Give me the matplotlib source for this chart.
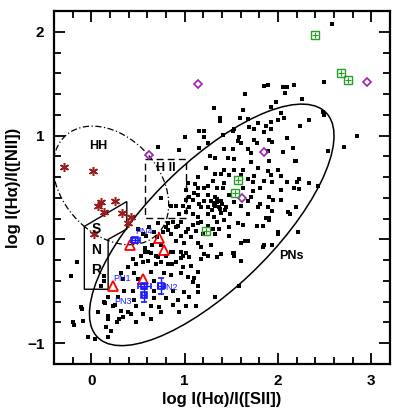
import matplotlib
matplotlib.use("Agg")
import matplotlib.pyplot as plt
from matplotlib.patches import Ellipse, Polygon
from matplotlib.ticker import MultipleLocator

plt.rcParams['font.family'] = ['Liberation Sans', 'DejaVu Sans']

# ---- data (log Ha/[SII], log Ha/[NII]) ----
pn_xy = [
    (1.89,1.49),(1.85,1.48),(2.05,1.47),(2.10,1.47),(2.17,1.49),(2.08,1.41),(1.65,1.40),(1.31,1.27),(1.63,1.25),
    (1.92,1.28),(1.98,1.32),(1.38,1.17),(1.38,1.14),(1.59,1.17),(1.68,1.16),(2.03,1.22),(1.92,1.13),(2.00,1.15),
    (2.06,1.17),(1.69,1.08),(1.74,1.06),(1.79,1.12),(1.87,1.09),(1.93,1.06),(1.85,1.03),(1.53,1.06),(1.52,1.04),
    (1.21,1.04),(1.21,0.99),(1.41,1.01),(1.58,0.99),(1.57,0.95),(1.60,0.93),(1.74,0.96),(1.78,0.93),(1.90,0.96),
    (1.94,0.94),(2.10,0.98),(2.16,0.88),(1.25,0.93),(1.42,0.87),(1.52,0.87),(1.68,0.87),(1.71,0.83),(1.89,0.85),
    (2.05,0.84),
    (2.58,2.07),(2.49,1.52),(2.26,1.35),(2.33,1.15),(2.48,1.23),(2.49,1.20),(2.85,1.00),(2.71,0.89),(2.54,0.85),
    (2.18,0.76),(2.33,0.54),(2.20,0.55),(2.23,0.49),(2.43,0.51),(2.24,1.09),
    (1.27,0.80),(1.33,0.78),(1.46,0.78),(1.53,0.77),(1.71,0.75),(1.90,0.76),(1.23,0.69),(1.42,0.67),(1.53,0.67),
    (1.62,0.67),(1.79,0.69),(1.89,0.66),(2.00,0.67),(2.19,0.76),(1.33,0.63),(1.39,0.63),(1.47,0.62),(1.60,0.62),
    (1.74,0.61),(1.92,0.62),(2.03,0.61),(2.22,0.58),(1.30,0.56),(1.42,0.54),(1.68,0.58),(1.73,0.55),(1.85,0.56),
    (1.94,0.55),(2.10,0.55),(1.21,0.50),(1.25,0.51),(1.35,0.50),(1.41,0.50),(1.63,0.50),(1.73,0.47),(1.81,0.50),
    (2.03,0.48),(2.17,0.50),(1.25,0.43),(1.33,0.41),(1.47,0.43),(1.71,0.41),(1.90,0.41),(1.95,0.38),(2.03,0.38),
    (1.21,0.37),(1.28,0.37),(1.35,0.36),(1.39,0.37),(1.53,0.36),(1.68,0.37),(1.81,0.34),(1.17,0.31),(1.25,0.31),
    (1.33,0.32),(1.37,0.31),(1.44,0.31),(1.60,0.32),(1.79,0.31),(1.89,0.31),(1.94,0.27),(2.11,0.26),(2.19,0.31),
    (1.25,0.24),(1.31,0.22),(1.39,0.25),(1.49,0.24),(1.68,0.24),(1.87,0.21),(1.90,0.19),(1.17,0.17),(1.35,0.17),
    (1.42,0.19),(1.57,0.16),(1.62,0.14),(1.25,0.13),(1.30,0.10),(1.37,0.10),(1.47,0.12),(1.78,0.13),(2.00,0.05),
    (1.20,0.05),(1.33,0.05),(1.47,0.03),(1.65,-0.02),(1.60,-0.03),(1.85,-0.05),(1.94,-0.05),(1.28,-0.05),(1.17,-0.07),
    (1.31,0.33),(1.35,0.39),(1.40,0.34),(1.29,0.28),(1.43,0.28),(1.38,0.29),(1.33,0.35),
    (1.14,0.60),(1.04,0.54),(1.01,0.48),(1.14,0.50),(1.05,0.41),(1.09,0.38),(1.14,0.43),(0.85,0.32),(0.91,0.32),
    (0.98,0.32),(1.05,0.31),(1.15,0.34),(0.94,0.24),(1.01,0.26),(1.09,0.24),(1.14,0.22),(0.82,0.16),(0.87,0.17),
    (0.96,0.17),(1.09,0.14),(1.14,0.16),(0.80,0.12),(0.91,0.12),(1.04,0.10),(1.12,0.08),(0.85,0.05),(0.96,0.03),
    (1.07,0.02),(0.91,-0.02),(0.99,-0.03),(1.14,-0.03),(0.71,0.16),(0.75,0.40),
    (0.71,0.89),(1.00,0.99),(0.94,0.86),(1.15,1.04),(1.15,0.88),(1.10,0.45),(1.11,0.53),(1.01,0.38),
    (0.57,-0.12),(0.64,-0.13),(0.69,-0.16),(0.96,-0.12),(1.01,-0.13),(0.98,-0.16),(1.05,-0.17),(0.85,-0.12),
    (0.45,-0.19),(0.48,-0.24),(0.55,-0.22),(0.61,-0.21),(0.69,-0.24),(0.75,-0.22),(0.82,-0.24),(0.91,-0.22),
    (0.98,-0.27),(1.07,-0.26),(1.14,-0.31),(0.39,-0.27),(0.32,-0.32),(0.46,-0.32),(0.64,-0.31),(0.78,-0.32),
    (0.85,-0.34),(0.96,-0.32),(1.04,-0.36),(1.10,-0.37),(0.34,-0.38),(0.50,-0.38),(0.67,-0.40),(1.09,-0.41),
    (1.14,-0.45),(0.35,-0.50),(0.45,-0.50),(0.67,-0.50),(0.88,-0.50),(0.99,-0.51),(1.14,-0.51),(0.18,-0.55),
    (0.29,-0.55),(0.46,-0.58),(0.67,-0.56),(0.80,-0.56),(0.93,-0.58),(1.05,-0.55),(0.14,-0.60),(0.25,-0.63),
    (0.48,-0.64),(0.64,-0.64),(0.73,-0.65),(0.88,-0.63),(1.01,-0.64),(1.12,-0.64),(0.32,-0.69),(0.43,-0.72),
    (0.55,-0.72),(0.75,-0.70),(0.94,-0.70),(0.18,-0.74),(0.34,-0.75),(0.64,-0.77),(0.48,-0.80),(0.27,-0.80),
    (0.16,-0.84),
    (-0.15,-0.22),(-0.22,-0.35),(0.14,-0.35),(0.14,-0.40),(0.10,-0.45),(0.15,-0.61),(0.07,-0.70),(0.23,-0.64),
    (0.18,-0.77),(-0.10,-0.67),(-0.09,-0.79),(-0.20,-0.80),(-0.04,-0.94),(0.04,-0.96),(0.18,-0.94),
    (-0.11,-0.65),(-0.19,-0.82),(0.21,-0.88),(0.30,-0.77),(0.39,-0.70),
    (1.21,-0.14),(1.25,-0.16),(1.35,-0.17),(1.39,-0.14),(1.52,-0.13),(1.53,-0.16),(1.60,-0.21),(1.17,-0.19),
    (1.33,-0.55),(1.58,-0.45),
    (1.84,0.13),(1.90,0.21),(2.00,0.07),(2.13,0.24),(2.21,0.07),(1.68,-0.02),(1.84,-0.07),(1.53,-0.13),
    (0.59,0.03),(0.67,0.07),(0.77,0.07),(0.82,0.09),(0.93,0.13),(1.01,0.07),(0.61,-0.12),(0.53,-0.16),
    (0.71,-0.17),(0.80,-0.16),(0.88,-0.12),(0.96,-0.18),(0.86,-0.24),
    (0.50,0.10),(0.55,0.05),(0.62,0.12),(0.70,0.02),(0.75,-0.05),(0.65,-0.05),(0.58,-0.08),
]
pn_x = [p[0] for p in pn_xy]
pn_y = [p[1] for p in pn_xy]

hh_x = [-0.29, 0.02, 0.10, 0.07, 0.14, 0.25, 0.33, 0.42, 0.39, 0.03]
hh_y = [0.70, 0.66, 0.36, 0.32, 0.26, 0.37, 0.25, 0.22, 0.16, 0.05]

diam_x = [1.14, 0.62, 2.95, 1.85, 1.61]
diam_y = [1.50, 0.81, 1.52, 0.84, 0.40]

green_x = [2.40, 2.67, 2.75, 1.57, 1.54, 1.23]
green_y = [1.97, 1.60, 1.54, 0.57, 0.45, 0.08]

tri_x = [0.41, 0.73, 0.78, 0.23, 0.55]
tri_y = [-0.05, 0.01, -0.10, -0.45, -0.38]

pnobs_names = ["PN1", "PN2", "PN3", "PN4"]
pnobs_x = [0.565, 0.75, 0.565, 0.47]
pnobs_y = [-0.45, -0.45, -0.54, -0.01]
pnobs_xerr = [0.07, 0.04, 0.02, 0.05]
pnobs_yerr = [0.02, 0.08, 0.06, 0.02]

# ---- figure ----
fig = plt.figure(figsize=(3.99, 4.20), dpi=100)
ax = fig.add_axes([54/399, 1-364/420, (390-54)/399, (364-11)/420])

ax.plot(pn_x, pn_y, 's', color='black', ms=2.2, mew=0, zorder=3)

# regions
ax.add_patch(Ellipse((1.29, 0.14), 3.27, 1.26, angle=40.4, fill=False, ec='black', lw=1.1, zorder=4))
ax.add_patch(Ellipse((0.21, 0.52), 1.374, 0.974, angle=-38, fill=False, ec='black', lw=0.9,
                     ls=(0, (5, 2, 1, 2)), zorder=4))
snr = [(-0.075, 0.125), (0.38, 0.365), (0.38, 0.10), (0.18, 0.0), (0.18, -0.48), (-0.075, -0.48)]
ax.add_patch(Polygon(snr, closed=True, fill=False, ec='black', lw=1.0, zorder=4))
hii = [(0.58, 0.77), (1.01, 0.77), (1.01, 0.21), (0.58, 0.21)]
ax.add_patch(Polygon(hii, closed=True, fill=False, ec='black', lw=1.0, ls=(0, (5, 3)), zorder=4))

# other objects
ax.plot(hh_x, hh_y, ls='none', marker=(6, 2, 0), color='#9b1c1c', ms=6.5, mew=1.1, zorder=5)
ax.plot(hh_x, hh_y, ls='none', marker='o', color='#9b1c1c', ms=2.5, mew=0, zorder=5)
ax.plot(diam_x, diam_y, 'D', mfc='none', mec='#a020b0', ms=4.5, mew=1.2, zorder=5)
ax.plot(green_x, green_y, 's', mfc='none', mec='#22a022', ms=5.5, mew=1.0, zorder=5)
ax.plot(green_x, green_y, '+', color='#22a022', ms=5, mew=0.8, zorder=5)
ax.plot(tri_x, tri_y, '^', mfc='none', mec='red', ms=7.5, mew=1.3, zorder=6)
ax.errorbar(pnobs_x, pnobs_y, xerr=pnobs_xerr, yerr=pnobs_yerr, fmt='s', mfc='none', mec='#1a1aff',
            ecolor='#1a1aff', ms=5, mew=1.2, elinewidth=1.0, capsize=2, zorder=7)

blue_lab = {"PN1": (0.33, -0.38), "PN2": (0.83, -0.46), "PN3": (0.34, -0.60), "PN4": (0.56, 0.08)}
for name in pnobs_names:
    ax.text(*blue_lab[name], name, color='#1a1aff', fontsize=6.5, ha='center', va='center', zorder=8)

bold = dict(fontweight='bold', ha='center', va='center', zorder=8)
ax.text(0.07, 0.9, 'HH', fontsize=9, **bold)
ax.text(0.80, 0.69, 'H II', fontsize=9, **bold)
ax.text(0.05, 0.10, 'S', fontsize=10, **bold)
ax.text(0.05, -0.10, 'N', fontsize=10, **bold)
ax.text(0.05, -0.29, 'R', fontsize=10, **bold)
ax.text(2.14, -0.16, 'PNs', fontsize=9, **bold)

ax.set_xlim(-0.4, 3.2)
ax.set_ylim(-1.2, 2.2)
ax.xaxis.set_major_locator(MultipleLocator(1))
ax.xaxis.set_minor_locator(MultipleLocator(0.2))
ax.yaxis.set_major_locator(MultipleLocator(1))
ax.yaxis.set_minor_locator(MultipleLocator(0.2))
ax.tick_params(which='both', direction='in', top=True, right=True, width=1.3, labelsize=11, pad=7)
ax.tick_params(which='major', length=8)
ax.tick_params(which='minor', length=5)
for lab in ax.get_xticklabels() + ax.get_yticklabels():
    lab.set_fontweight('bold')
for s in ax.spines.values():
    s.set_linewidth(1.6)

ax.set_xlabel('log I(Hα)/I([SII])', fontsize=12, fontweight='bold', labelpad=3)
ax.set_ylabel('log I(Hα)/I([NII])', fontsize=12, fontweight='bold', labelpad=4)

fig.savefig('out.png', dpi=100)
